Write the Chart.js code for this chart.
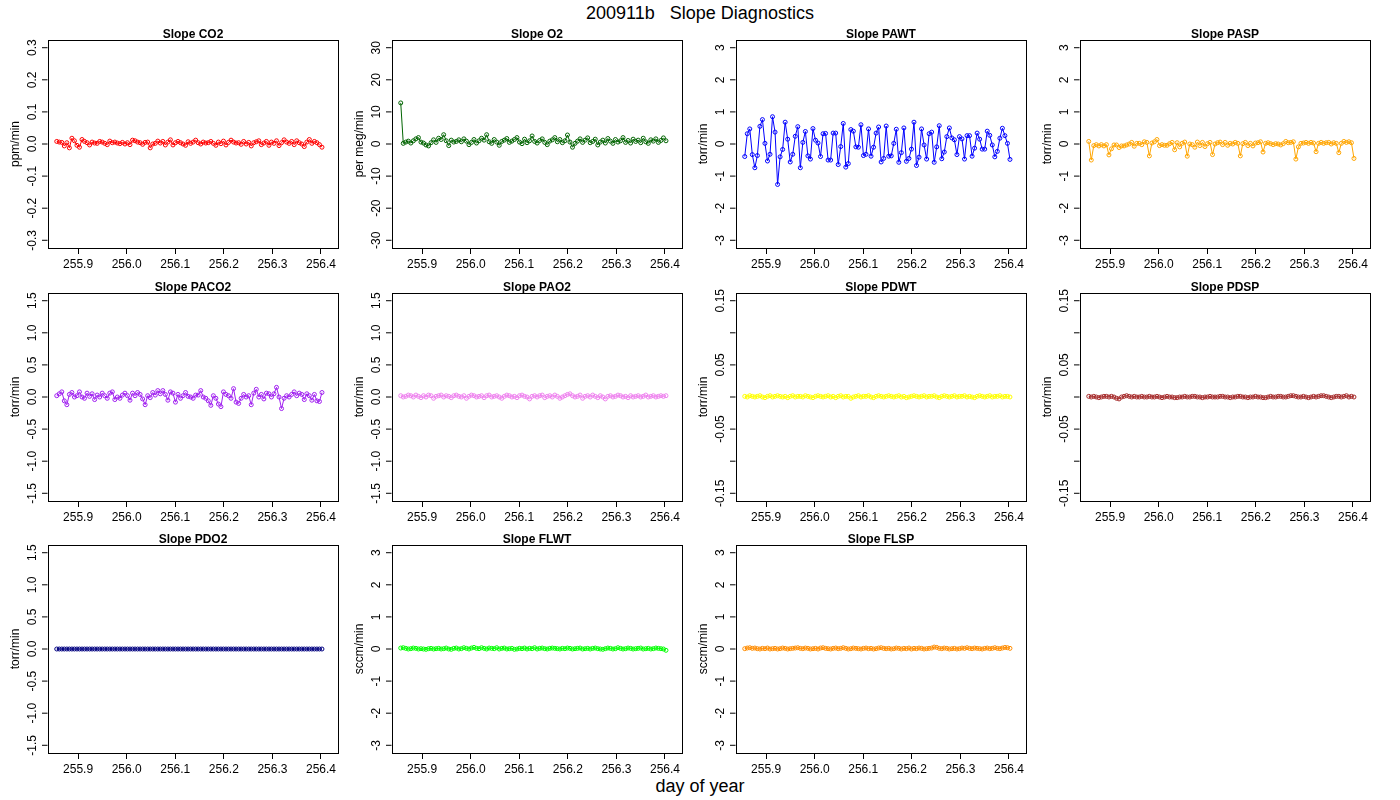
<!DOCTYPE html>
<html><head><meta charset="utf-8">
<script src="https://cdn.jsdelivr.net/npm/chart.js@4"></script>
<style>
body{margin:0;width:1400px;height:800px;background:#fff;position:relative;font-family:"Liberation Sans",Arial,sans-serif;overflow:hidden}
canvas{position:absolute}
.t{position:absolute;width:1400px;text-align:center;font-size:18px}
</style></head><body>
<div class="t" style="top:3px">200911b&nbsp;&nbsp;&nbsp;Slope Diagnostics</div>
<div class="t" style="top:776px">day of year</div>
<script>
const startDay = 255.856, stepDay = 0.0052;
const xTicks = [255.9, 256.0, 256.1, 256.2, 256.3, 256.4];
const co2 = [0.008,0.006,0.005,-0.006,0.004,-0.012,0.018,0.01,-0.004,-0.01,0.014,0.008,0.004,-0.003,0.006,0.003,0.002,0.008,0.006,0.002,-0.002,0.009,0.004,0.006,0.003,0.001,0.005,0.0,0.004,-0.002,0.012,0.01,0.006,0.004,-0.001,0.005,0.006,-0.012,0.0,0.002,0.009,0.003,0.008,-0.003,0.006,0.013,-0.003,0.004,0.008,0.004,0.0,-0.004,0.007,0.002,0.006,0.012,0.004,0.0,0.006,0.003,0.004,0.008,0.002,-0.004,0.006,0.001,0.009,-0.003,0.005,0.012,0.006,0.003,0.004,-0.001,0.008,0.0,0.005,-0.006,0.004,0.007,0.01,-0.002,0.003,0.008,-0.004,0.006,0.002,0.01,-0.005,0.004,0.013,0.006,0.002,0.008,-0.002,0.01,0.004,0.0,-0.008,0.006,0.014,0.002,0.008,0.004,-0.002,-0.01];
const o2 = [12.8,0.2,0.6,0.9,0.3,1.0,1.6,2.0,0.6,0.3,-0.3,-0.6,0.4,1.3,0.5,1.8,1.4,2.9,1.0,-0.5,1.2,0.6,0.8,1.3,0.7,1.6,0.9,-0.2,0.5,1.4,0.3,1.0,1.8,1.2,2.9,0.7,0.2,1.4,0.6,-0.4,0.8,1.2,1.7,0.5,0.9,1.4,2.0,0.6,0.1,1.5,0.4,1.0,2.5,0.8,0.3,1.1,1.6,0.5,-0.2,0.9,1.3,2.0,0.7,1.4,0.4,1.0,2.8,0.6,-1.0,0.2,0.9,1.6,0.5,1.2,1.9,0.4,0.8,1.5,-0.3,0.6,1.2,0.3,1.7,0.9,0.2,1.4,0.6,1.0,2.0,0.5,1.1,0.3,1.5,0.8,1.2,0.4,1.8,0.7,0.2,1.3,0.9,1.6,0.5,1.1,1.9,1.0];
const pawt = [-0.39,0.32,0.47,-0.33,-0.74,-0.36,0.55,0.76,0.02,-0.53,-0.32,0.85,0.37,-1.26,-0.4,-0.17,0.68,0.15,-0.56,-0.32,0.24,0.54,-0.74,0.05,0.39,-0.37,-0.47,0.48,0.12,0.03,-0.39,0.32,0.33,-0.5,-0.5,0.34,0.34,-0.64,-0.08,0.64,-0.72,-0.61,0.45,0.4,-0.09,-0.1,0.6,-0.36,-0.32,0.47,-0.38,-0.1,0.34,0.53,-0.56,-0.45,0.56,-0.38,-0.37,0.02,0.46,-0.57,-0.27,0.5,-0.54,-0.45,-0.16,0.68,-0.67,-0.41,0.47,-0.03,-0.47,0.32,0.37,-0.57,-0.09,0.57,-0.46,-0.25,0.23,0.5,0.19,0.13,-0.33,0.23,0.16,-0.47,0.26,0.26,-0.38,-0.13,0.34,0.15,-0.16,-0.16,0.4,0.27,-0.03,-0.4,-0.23,0.18,0.49,0.26,0.02,-0.48];
const pasp = [0.08,-0.5,-0.05,-0.02,-0.06,-0.02,-0.06,-0.02,-0.34,-0.15,-0.03,-0.03,-0.11,-0.06,-0.06,-0.03,0.0,0.05,-0.07,0.02,0.02,-0.02,0.07,0.05,-0.37,0.03,0.07,0.14,-0.05,-0.02,-0.04,-0.04,0.01,0.05,-0.18,0.04,-0.09,0.02,0.06,-0.38,0.0,-0.02,-0.1,0.06,-0.05,0.05,-0.08,0.01,0.05,-0.33,0.0,0.04,0.06,-0.02,0.05,-0.04,0.02,0.0,0.05,0.02,-0.37,0.01,0.05,-0.05,0.02,-0.06,0.03,0.04,0.07,-0.25,0.02,0.04,0.01,-0.02,0.01,0.0,-0.03,0.01,0.08,0.04,0.05,0.07,-0.47,-0.09,0.02,0.03,0.05,0.02,0.05,0.03,-0.24,0.02,0.05,0.02,0.04,0.05,0.0,0.04,0.02,-0.27,0.02,0.08,0.05,0.07,0.04,-0.45];
const paco2 = [0.02,0.05,0.08,-0.06,-0.12,0.04,0.07,0.0,0.02,0.08,0.0,-0.02,0.06,0.01,0.05,-0.04,0.03,0.0,0.06,0.02,-0.02,0.06,0.08,-0.04,0.0,-0.02,0.03,0.06,0.02,-0.05,0.06,0.02,0.07,0.04,-0.03,-0.12,0.02,-0.01,0.07,0.03,0.1,0.05,0.1,0.04,-0.05,0.08,0.06,-0.08,0.04,-0.02,0.02,0.07,0.01,0.0,-0.02,0.03,0.03,0.1,0.0,-0.02,-0.06,-0.13,0.02,-0.02,-0.11,-0.15,0.08,0.04,0.02,-0.02,0.13,-0.08,-0.1,-0.02,0.04,0.0,0.02,-0.12,0.06,0.12,0.0,0.04,-0.03,0.06,0.05,0.0,0.05,0.15,0.0,-0.18,-0.02,0.02,0.0,0.04,0.08,0.02,0.06,0.04,-0.04,0.05,0.02,-0.05,0.04,-0.06,-0.07,0.07];
const pao2 = [0.02,0.0,0.01,0.03,0.02,0.0,0.03,0.01,-0.01,0.02,0.0,0.03,0.02,-0.02,0.01,0.02,0.03,0.0,0.02,0.01,-0.01,0.02,0.03,0.01,0.0,0.02,-0.02,0.01,0.03,0.02,0.0,0.01,0.02,-0.01,0.02,0.03,0.0,0.01,0.02,0.0,-0.02,0.01,0.03,0.02,0.0,0.01,-0.01,0.02,0.03,0.01,0.0,-0.03,0.01,0.02,0.0,0.02,0.03,-0.01,0.01,0.02,0.0,0.03,0.01,-0.02,0.0,0.02,0.04,0.05,0.02,0.0,0.01,0.03,-0.02,0.01,0.02,0.0,0.03,0.01,-0.01,0.02,0.0,-0.03,0.01,0.02,0.0,0.01,0.03,0.02,0.0,0.01,-0.01,0.02,0.0,0.01,0.02,0.0,0.01,0.03,0.0,0.01,0.02,0.0,0.01,0.02,0.01,0.02];
const pdwt = [0.001,0.0,0.002,0.001,0.0,0.001,0.002,0.0,-0.001,0.001,0.002,0.0,0.001,0.002,0.001,0.0,0.001,-0.001,0.001,0.002,0.0,0.001,0.001,0.0,0.002,0.001,0.0,-0.001,0.001,0.002,0.001,0.0,0.001,0.002,0.0,0.001,-0.001,0.001,0.002,0.0,0.001,0.001,-0.002,0.0,0.001,0.002,0.0,0.001,0.001,0.002,0.0,-0.001,0.001,0.002,0.001,0.0,0.001,0.002,0.001,0.0,0.001,0.002,0.0,0.001,-0.001,0.0,0.001,0.002,0.001,0.0,0.001,0.002,0.0,0.001,0.001,0.002,0.0,-0.001,0.001,0.002,0.001,0.0,0.001,0.002,0.0,0.001,0.001,0.002,0.0,0.001,0.0,-0.001,0.001,0.002,0.001,0.0,0.001,0.002,0.0,0.001,0.001,0.002,0.0,0.001,0.001,0.0];
const pdsp = [0.001,0.0,0.001,0.0,-0.001,0.0,0.001,0.001,0.0,0.001,0.0,-0.002,-0.003,0.0,0.001,0.002,0.001,0.0,0.001,0.0,0.0,0.001,0.0,0.0,0.001,0.0,0.0,0.001,0.0,-0.001,0.0,0.001,0.0,0.0,-0.001,-0.001,0.0,0.0,0.001,0.0,0.0,0.001,0.001,0.0,0.0,-0.001,0.0,0.0,0.001,0.0,0.0,0.0,0.001,0.001,0.0,0.0,-0.001,0.0,0.0,0.001,0.001,0.0,0.0,-0.001,0.0,0.0,0.001,0.0,0.0,-0.001,-0.001,0.0,0.001,0.0,0.0,0.001,0.001,0.0,0.0,0.001,0.002,0.002,0.001,0.0,0.0,0.001,0.0,-0.001,0.0,0.001,0.0,0.001,0.002,0.002,0.001,0.0,-0.001,0.0,0.001,0.001,0.0,0.001,0.002,0.0,0.001,0.0];
const pdo2 = new Array(106).fill(0);
const flwt = [0.03,0.04,0.02,0.0,0.01,0.03,0.02,0.0,0.01,0.0,-0.01,0.01,0.02,0.0,0.01,0.02,0.0,0.01,0.03,0.0,-0.01,0.02,0.03,0.0,0.01,0.04,0.02,0.0,0.03,0.05,0.02,0.01,0.04,0.02,0.0,0.03,0.02,0.01,0.04,0.0,0.02,0.03,0.0,0.01,0.02,-0.01,0.0,0.02,0.01,0.03,0.0,0.02,0.01,0.04,0.0,0.02,0.03,0.01,0.0,0.02,0.03,0.02,0.01,0.0,0.02,0.01,0.03,0.02,0.0,0.01,0.02,0.03,0.0,0.01,0.02,0.0,0.02,0.03,0.01,0.0,-0.01,0.01,0.03,0.02,0.0,0.01,0.04,0.02,0.0,0.01,0.03,0.02,0.0,0.01,0.02,0.03,0.0,0.01,0.02,0.0,0.01,0.03,0.02,0.01,0.0,-0.04];
const flsp = [0.01,0.03,0.04,0.02,0.03,0.01,0.0,0.02,0.01,0.03,0.0,0.01,0.02,0.0,0.01,0.03,0.02,0.0,0.01,0.02,0.03,0.04,0.02,0.01,0.03,0.02,0.0,0.01,0.02,0.0,0.03,0.04,0.02,0.01,0.0,0.02,0.03,0.01,0.02,0.04,0.02,0.0,0.01,0.03,0.02,0.01,0.0,0.02,0.03,0.01,0.02,0.0,0.01,0.03,0.04,0.02,0.01,0.02,0.0,0.01,0.03,0.02,0.0,0.02,0.01,0.03,0.0,0.02,0.01,0.03,0.02,0.0,0.01,0.02,0.03,0.06,0.05,0.02,0.01,0.03,0.02,0.0,0.01,0.02,0.0,0.01,0.03,0.02,0.04,0.02,0.01,0.03,0.02,0.01,0.0,0.02,0.03,0.01,0.02,0.04,0.02,0.01,0.03,0.05,0.04,0.02];

const yT3 = [-3,-2,-1,0,1,2,3];
const yT15 = [-1.5,-1.0,-0.5,0.0,0.5,1.0,1.5];
const yT015 = [-0.15,-0.1,-0.05,0,0.05,0.1,0.15];
const panels = [
 {t:'Slope CO2',y:'ppm/min',d:co2,c:'#FF0000',r:0.3,tk:[-0.3,-0.2,-0.1,0,0.1,0.2,0.3],f:1,col:0,row:0},
 {t:'Slope O2',y:'per meg/min',d:o2,c:'#006400',r:30,tk:[-30,-20,-10,0,10,20,30],f:0,col:1,row:0},
 {t:'Slope PAWT',y:'torr/min',d:pawt,c:'#0000FF',r:3,tk:yT3,f:0,col:2,row:0},
 {t:'Slope PASP',y:'torr/min',d:pasp,c:'#FFA500',r:3,tk:yT3,f:0,col:3,row:0},
 {t:'Slope PACO2',y:'torr/min',d:paco2,c:'#A020F0',r:1.5,tk:yT15,f:1,col:0,row:1},
 {t:'Slope PAO2',y:'torr/min',d:pao2,c:'#EE82EE',r:1.5,tk:yT15,f:1,col:1,row:1},
 {t:'Slope PDWT',y:'torr/min',d:pdwt,c:'#FFFF00',r:0.15,tk:yT015,f:2,col:2,row:1},
 {t:'Slope PDSP',y:'torr/min',d:pdsp,c:'#A52A2A',r:0.15,tk:yT015,f:2,col:3,row:1},
 {t:'Slope PDO2',y:'torr/min',d:pdo2,c:'#000080',r:1.5,tk:yT15,f:1,col:0,row:2},
 {t:'Slope FLWT',y:'sccm/min',d:flwt,c:'#00FF00',r:3,tk:yT3,f:0,col:1,row:2},
 {t:'Slope FLSP',y:'sccm/min',d:flsp,c:'#FF8C00',r:3,tk:yT3,f:0,col:2,row:2}
];
const colL=[48,392,736,1080], rowT=[40,293,545], BW=290, BH=208, LW=48, TP=20, BP=30, RP=8;
const FONT='"Liberation Sans", Arial, sans-serif';
Chart.defaults.font.family=FONT;

panels.forEach(p=>{
  const cv=document.createElement('canvas');
  const W=LW+BW+RP, H=TP+BH+BP;
  cv.width=W; cv.height=H;
  cv.style.left=(colL[p.col]-LW)+'px'; cv.style.top=(rowT[p.row]-TP)+'px';
  cv.style.width=W+'px'; cv.style.height=H+'px';
  document.body.appendChild(cv);
  const pts=p.d.map((v,i)=>({x:startDay+i*stepDay,y:v}));
  const fmt=v=>{
    if(p.f===2) return (Math.abs(Math.round(v*100))%10===0)?'':(v===0?'0.00':v.toFixed(2));
    return p.f===0?String(Math.round(v)):v.toFixed(1);
  };
  const plug={id:'deco',afterDraw(ch){
    const c=ch.ctx,a=ch.chartArea,ys=ch.scales.y;
    c.save();
    c.strokeStyle='#000';c.lineWidth=1;
    c.strokeRect(Math.round(a.left)+0.5,Math.round(a.top)+0.5,Math.round(a.right-a.left),Math.round(a.bottom-a.top));
    c.fillStyle='#000';c.font='bold 12px '+FONT;c.textAlign='center';c.textBaseline='alphabetic';
    c.fillText(p.t,(a.left+a.right)/2,a.top-2);
    c.font='12px '+FONT;
    p.tk.forEach(v=>{
      const y=ys.getPixelForValue(v);
      c.beginPath();c.moveTo(a.left-0.5,y);c.lineTo(a.left-6,y);c.stroke();
      const s=fmt(v); if(!s) return;
      c.save();c.translate(a.left-16,y);c.rotate(-Math.PI/2);c.textAlign='center';c.textBaseline='alphabetic';
      c.fillText(s,0,4);c.restore();
    });
    c.save();c.translate(a.left-33,(a.top+a.bottom)/2);c.rotate(-Math.PI/2);c.textAlign='center';c.textBaseline='alphabetic';
    c.fillText(p.y,0,4);c.restore();
    c.restore();
  }};
  new Chart(cv,{type:'line',data:{datasets:[{data:pts,borderColor:p.c,borderWidth:1,pointRadius:2,pointBorderWidth:1,pointBackgroundColor:'rgba(0,0,0,0)',pointBorderColor:p.c,tension:0}]},
    options:{responsive:false,devicePixelRatio:1,animation:false,events:[],
      layout:{padding:{top:TP,right:RP,left:0,bottom:0}},
      plugins:{legend:{display:false},tooltip:{enabled:false}},
      scales:{
        x:{type:'linear',min:255.838,max:256.435,afterBuildTicks:s=>{s.ticks=xTicks.map(v=>({value:v}));},
          afterFit:s=>{s.height=BP;s.paddingLeft=0;s.paddingRight=0;},
          grid:{drawOnChartArea:false,tickLength:6,color:'#000'},border:{display:false},
          ticks:{color:'#000',font:{size:12},padding:3,maxRotation:0,autoSkip:false,callback:v=>v.toFixed(1)}},
        y:{min:-p.r*1.08,max:p.r*1.08,afterBuildTicks:s=>{s.ticks=p.tk.map(v=>({value:v}));},
          afterFit:s=>{s.width=LW;},
          grid:{display:false},border:{display:false},ticks:{display:false}}
      }},plugins:[plug]});
});
</script></body></html>
